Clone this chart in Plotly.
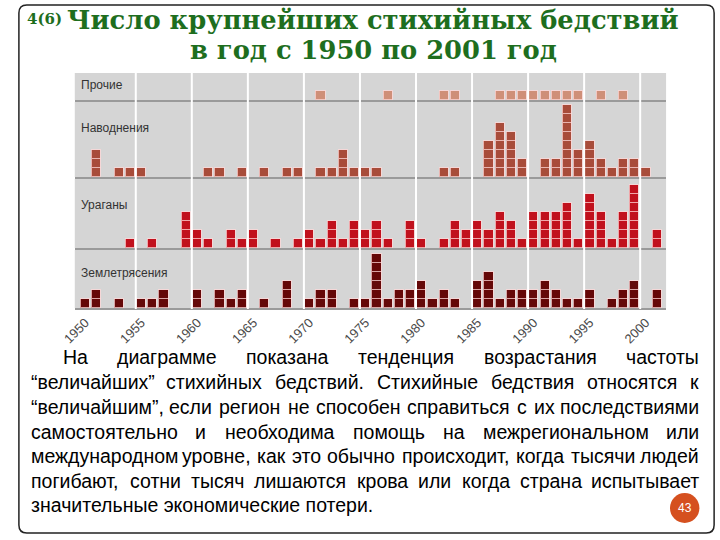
import glob
import struct
import plotly.graph_objects as go

# ---------------- data ----------------
years = list(range(1950, 2002))
# counts per year, 1950..2001
others = [0, 0, 0, 0, 0, 0, 0, 0, 0, 0,
          0, 0, 0, 0, 0, 0, 0, 0, 0, 0,
          0, 1, 0, 0, 0, 0, 0, 1, 0, 0,
          0, 0, 1, 1, 0, 0, 0, 1, 1, 1,
          1, 1, 1, 1, 1, 0, 1, 0, 1, 0,
          0, 0]
floods = [0, 3, 0, 1, 1, 1, 0, 0, 0, 0,
          0, 1, 1, 0, 1, 0, 1, 0, 1, 1,
          0, 1, 1, 3, 1, 1, 1, 0, 0, 0,
          0, 0, 1, 1, 0, 0, 4, 6, 5, 2,
          0, 2, 2, 8, 3, 4, 2, 1, 2, 2,
          1, 0]
hurricanes = [0, 0, 0, 0, 1, 0, 1, 0, 0, 4,
              2, 1, 0, 2, 1, 2, 0, 1, 0, 1,
              2, 1, 3, 1, 3, 2, 3, 1, 0, 3,
              1, 0, 1, 3, 2, 3, 2, 4, 3, 1,
              4, 4, 4, 5, 1, 6, 4, 1, 4, 7,
              0, 2]
earthquakes = [1, 2, 0, 1, 0, 1, 1, 2, 0, 0,
               2, 0, 2, 1, 2, 0, 1, 0, 3, 0,
               1, 2, 2, 0, 1, 1, 6, 1, 2, 2,
               3, 1, 2, 1, 0, 3, 4, 1, 2, 2,
               2, 3, 2, 1, 1, 2, 0, 1, 2, 3,
               0, 2]
categories = ["Прочие", "Наводнения", "Ураганы", "Землетрясения"]
tick_years = list(range(1950, 2001, 5))
separator_years = [y + 0.5 for y in range(1954, 2000, 5)]

title_line1 = "Число крупнейших стихийных бедствий"
title_line2 = "в год с 1950 по 2001 год"
slide_no = "4(6)"
page_no = "43"
paragraph = [
    "На диаграмме показана тенденция возрастания частоты",
    "“величайших” стихийных бедствий. Стихийные бедствия относятся к",
    "“величайшим”, если регион не способен справиться с их последствиями",
    "самостоятельно и необходима помощь на межрегиональном или",
    "международном уровне, как это обычно происходит, когда тысячи людей",
    "погибают, сотни тысяч лишаются крова или когда страна испытывает",
    "значительные экономические потери.",
]

# ---------------- helpers ----------------
W, H = 720, 540
def px(x):
    return x / W
def py(y):
    return 1 - y / H


def load_font_advance(path):
    data = open(path, "rb").read()
    num_tables = struct.unpack(">H", data[4:6])[0]
    tables = {}
    for i in range(num_tables):
        tag, _cs, off, _ln = struct.unpack(">4sIII", data[12 + 16 * i: 28 + 16 * i])
        tables[tag.decode("latin1")] = off
    head = tables["head"]
    upem = struct.unpack(">H", data[head + 18: head + 20])[0]
    hhea = tables["hhea"]
    n_hm = struct.unpack(">H", data[hhea + 34: hhea + 36])[0]
    hmtx = tables["hmtx"]
    cmap = tables["cmap"]
    nsub = struct.unpack(">H", data[cmap + 2: cmap + 4])[0]
    sub = None
    for i in range(nsub):
        pid, eid, off = struct.unpack(">HHI", data[cmap + 4 + 8 * i: cmap + 12 + 8 * i])
        if pid == 3 and eid == 1:
            sub = cmap + off
    if sub is None or struct.unpack(">H", data[sub: sub + 2])[0] != 4:
        return None
    segx2 = struct.unpack(">H", data[sub + 6: sub + 8])[0]
    seg = segx2 // 2
    ends = struct.unpack(">%dH" % seg, data[sub + 14: sub + 14 + segx2])
    starts = struct.unpack(">%dH" % seg, data[sub + 16 + segx2: sub + 16 + 2 * segx2])
    deltas = struct.unpack(">%dh" % seg, data[sub + 16 + 2 * segx2: sub + 16 + 3 * segx2])
    rpos = sub + 16 + 3 * segx2
    roffs = struct.unpack(">%dH" % seg, data[rpos: rpos + segx2])

    def glyph(c):
        for i in range(seg):
            if ends[i] >= c:
                if starts[i] > c:
                    return 0
                if roffs[i] == 0:
                    return (c + deltas[i]) & 0xFFFF
                addr = rpos + 2 * i + roffs[i] + 2 * (c - starts[i])
                g = struct.unpack(">H", data[addr: addr + 2])[0]
                return (g + deltas[i]) & 0xFFFF if g else 0
        return 0

    def adv(ch):
        g = glyph(ord(ch))
        if g >= n_hm:
            g = n_hm - 1
        return struct.unpack(">H", data[hmtx + 4 * g: hmtx + 4 * g + 2])[0] / upem

    return adv


def find_font(name):
    try:
        c = glob.glob("/usr/share/fonts/**/" + name, recursive=True)
        if c:
            return load_font_advance(c[0])
    except Exception:
        pass
    return None


sans_adv = find_font("LiberationSans-Regular.ttf")
serif_bold_adv = find_font("DejaVuSerif-Bold.ttf")

# ---------------- chart ----------------
series = [others, floods, hurricanes, earthquakes]
colors = ["#cf8f78", "#a84c3a", "#c1111d", "#650808"]
panel_px = [(73, 100), (102, 177), (179, 248), (250, 308)]
label_y = [85, 128, 205, 273]
unit_px = 9.0
X_LEFT, X_RIGHT = 62, 665
xrange_ = [1949.06, 2001.81]

fig = go.Figure()
layout = {}
for i, (vals, color, (top, bot)) in enumerate(zip(series, colors, panel_px), 1):
    xa = "x" if i == 1 else f"x{i}"
    ya = "y" if i == 1 else f"y{i}"
    for k in range(1, max(vals) + 1):
        xs = [yr for yr, v in zip(years, vals) if v >= k]
        fig.add_trace(go.Bar(
            x=xs, y=[1] * len(xs), xaxis=xa, yaxis=ya, width=0.82,
            marker=dict(color=color, line=dict(color="rgba(255,215,215,0.75)", width=1)),
            showlegend=False, hoverinfo="x",
        ))
    layout["xaxis" if i == 1 else f"xaxis{i}"] = dict(
        domain=[px(X_LEFT), px(X_RIGHT)], range=xrange_, anchor=ya,
        showline=True, linecolor="#9a9a9a", linewidth=2, layer="below traces",
        showgrid=False, zeroline=False, ticks="",
        showticklabels=(i == 4), tickmode="array", tickvals=tick_years,
        ticktext=[str(t) for t in tick_years], tickangle=-45,
        tickfont=dict(family="Liberation Sans", size=13, color="#4a4a4a"),
        fixedrange=True,
    )
    layout["yaxis" if i == 1 else f"yaxis{i}"] = dict(
        domain=[py(bot), py(top)], range=[0, (bot - top) / unit_px], anchor=xa,
        visible=False, fixedrange=True,
    )

shapes = []
for sx in separator_years:
    shapes.append(dict(type="line", xref="x", yref="paper", x0=sx, x1=sx,
                       y0=py(309), y1=py(72), line=dict(color="white", width=2),
                       layer="above"))

x0, y0, x1, y1, r = 5, 5, 714, 533, 8
def P(x, y):
    return f"{px(x):.5f},{py(y):.5f}"
path = (f"M {P(x0 + r, y0)} L {P(x1 - r, y0)} Q {P(x1, y0)} {P(x1, y0 + r)} "
        f"L {P(x1, y1 - r)} Q {P(x1, y1)} {P(x1 - r, y1)} "
        f"L {P(x0 + r, y1)} Q {P(x0, y1)} {P(x0, y1 - r)} "
        f"L {P(x0, y0 + r)} Q {P(x0, y0)} {P(x0 + r, y0)} Z")
shapes.append(dict(type="path", xref="paper", yref="paper", path=path,
                   line=dict(color="#222222", width=1.5), layer="above"))
shapes.append(dict(type="circle", xref="paper", yref="paper",
                   x0=px(669), x1=px(699), y0=py(523), y1=py(493),
                   fillcolor="#d5501f", line=dict(width=0), layer="above"))

annotations = []
for lab, ly in zip(categories, label_y):
    annotations.append(dict(text=lab, xref="paper", yref="paper", x=px(66), y=py(ly),
                            xanchor="left", yanchor="middle", showarrow=False,
                            font=dict(family="Liberation Sans", size=12, color="#333333")))

# title size fitted to the reference width (612 px for the first line)
TITLE_FS = 26
if serif_bold_adv is not None:
    em = sum(serif_bold_adv(c) for c in title_line1)
    if em > 0:
        TITLE_FS = max(22, min(28, 612 / em))
green = "#1e6e1e"
annotations.append(dict(text=f"<b>{slide_no}</b>", xref="paper", yref="paper",
                        x=px(11), y=py(19), xanchor="left", yanchor="middle", showarrow=False,
                        font=dict(family="DejaVu Serif", size=15, color=green)))
annotations.append(dict(text=f"<b>{title_line1}</b>", xref="paper", yref="paper",
                        x=px(366), y=py(20), xanchor="center", yanchor="middle", showarrow=False,
                        font=dict(family="DejaVu Serif", size=TITLE_FS, color=green)))
annotations.append(dict(text=f"<b>{title_line2}</b>", xref="paper", yref="paper",
                        x=px(367), y=py(50), xanchor="center", yanchor="middle", showarrow=False,
                        font=dict(family="DejaVu Serif", size=TITLE_FS, color=green)))
annotations.append(dict(text=page_no, xref="paper", yref="paper",
                        x=px(684), y=py(508), xanchor="center", yanchor="middle", showarrow=False,
                        font=dict(family="Liberation Sans", size=12, color="white")))

# ---------- justified paragraph ----------
CW = {"а": 556, "б": 573, "в": 531, "г": 365, "д": 583, "е": 556, "ж": 669, "з": 458,
      "и": 559, "й": 559, "к": 438, "л": 583, "м": 688, "н": 552, "о": 556, "п": 542,
      "р": 556, "с": 500, "т": 458, "у": 500, "ф": 823, "х": 500, "ц": 573, "ч": 521,
      "ш": 802, "щ": 823, "ъ": 625, "ы": 719, "ь": 521, "э": 510, "ю": 750, "я": 542,
      "Н": 722, "С": 722, "“": 333, "”": 333, ",": 278, ".": 278, " ": 278}
FS = 19.5
def tw(s):
    if sans_adv is not None:
        return sum(sans_adv(c) for c in s) * FS
    return sum(CW.get(c, 556) for c in s) / 1000 * FS * 1.015

para_font = dict(family="Liberation Sans", size=FS, color="black")
line_y = [357, 382, 407, 432, 456, 481, 505]
L_FIRST, L_OTHER, R_EDGE = 50, 17, 699
for li, (line, ly) in enumerate(zip(paragraph, line_y)):
    left = L_FIRST if li == 0 else L_OTHER
    if li == len(paragraph) - 1:
        annotations.append(dict(text=line, xref="paper", yref="paper", x=px(left), y=py(ly),
                                xanchor="left", yanchor="middle", showarrow=False,
                                font=para_font, borderpad=0, borderwidth=0))
        continue
    words = line.split(" ")
    widths = [tw(w) for w in words]
    gap = (R_EDGE - left - sum(widths)) / (len(words) - 1)
    x = left
    n = len(words)
    for wi, (wd, wdw) in enumerate(zip(words, widths)):
        if wi == 0:
            xa_, anc = x, "left"
        elif wi == n - 1:
            xa_, anc = R_EDGE, "right"
        else:
            xa_, anc = x + wdw / 2, "center"
        annotations.append(dict(text=wd, xref="paper", yref="paper", x=px(xa_), y=py(ly),
                                xanchor=anc, yanchor="middle", showarrow=False,
                                font=para_font, borderpad=0, borderwidth=0))
        x += wdw + gap

fig.update_layout(
    width=W, height=H, margin=dict(l=0, r=0, t=0, b=0),
    paper_bgcolor="white", plot_bgcolor="#d5d5d5",
    barmode="stack", bargap=0, showlegend=False,
    shapes=shapes, annotations=annotations,
    **layout,
)
fig.write_html(
    "out.html",
    config={"displayModeBar": False},
    post_script="document.body.style.margin='0';document.body.style.overflow='hidden';"
                "document.documentElement.style.overflow='hidden';",
)
